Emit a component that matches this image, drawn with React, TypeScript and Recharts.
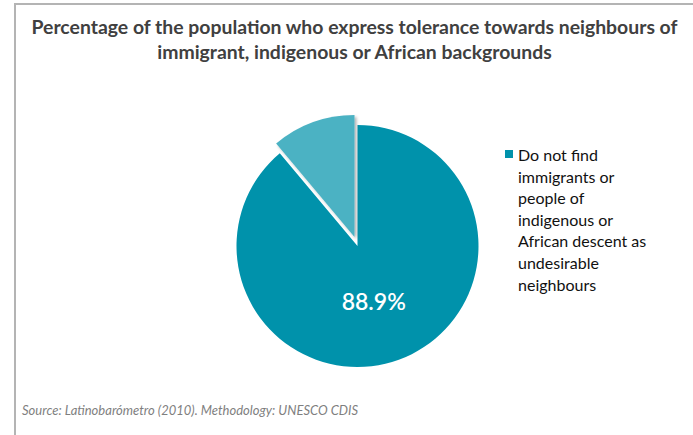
import { PieChart, Pie, Cell, Legend } from "recharts";

const categories = [
  "Do not find immigrants or people of indigenous or African descent as undesirable neighbours",
  "Others",
];
const shares = [88.9, 11.1];
const colors = ["#0092ab", "#4cb2c3"];

const data = categories.map((name, i) => ({ name, value: shares[i] }));

const RAD = Math.PI / 180;

const renderLabel = (props: any) => {
  if (props.index !== 0) return null;
  const { cx, cy, midAngle, outerRadius, percent } = props;
  const r = outerRadius * 0.49;
  const x = cx + r * Math.cos(-midAngle * RAD) - 4;
  const y = cy + r * Math.sin(-midAngle * RAD) - 1;
  return (
    <text
      x={x}
      y={y}
      fill="#ffffff"
      textAnchor="middle"
      dominantBaseline="central"
      fontSize={23}
      fontWeight={600}
      fontFamily="Lato, 'Open Sans', sans-serif"
    >
      {(percent * 100).toFixed(1)}%
    </text>
  );
};

const renderLegend = (props: any) => {
  const entry = (props.payload || [])[0];
  if (!entry) return null;
  return (
    <div style={{ display: "flex", alignItems: "flex-start", width: 160 }}>
      <span
        style={{
          display: "inline-block",
          width: 8,
          height: 8,
          background: colors[0],
          marginTop: 6,
          marginRight: 5,
          flexShrink: 0,
        }}
      />
      <span
        style={{
          fontSize: 16,
          lineHeight: "21.6px",
          color: "#111",
          fontFamily: "Lato, 'Open Sans', sans-serif",
          width: 138,
        }}
      >
        {entry.value}
      </span>
    </div>
  );
};

export default function App() {
  return (
    <div
      style={{
        position: "absolute",
        left: 0,
        top: 0,
        width: 693,
        height: 435,
        background: "#fff",
        overflow: "hidden",
        fontFamily: "Lato, 'Open Sans', sans-serif",
      }}
    >
      <div
        style={{
          position: "absolute",
          left: 14,
          top: 3,
          right: 0,
          bottom: 0,
          borderTop: "2px solid #b4b4b4",
          borderLeft: "2px solid #b4b4b4",
        }}
      />
      <div
        style={{
          position: "absolute",
          left: 16,
          width: 677,
          top: 14,
          textAlign: "center",
          fontSize: 19.4,
          fontWeight: 700,
          lineHeight: "25px",
          color: "#404040",
        }}
      >
        Percentage of the population who express tolerance towards neighbours of
        <br />
        immigrant, indigenous or African backgrounds
      </div>
      <PieChart width={693} height={435} style={{ position: "absolute", left: 0, top: 0 }}>
        <defs>
          <filter id="sliceShadow" x="-20%" y="-20%" width="140%" height="140%">
            <feDropShadow dx="2" dy="2" stdDeviation="1.5" floodColor="#000" floodOpacity="0.3" />
          </filter>
        </defs>
        <Pie
          data={data}
          dataKey="value"
          nameKey="name"
          cx={352.5}
          cy={241}
          outerRadius={121}
          startAngle={90}
          endAngle={-270}
          stroke="none"
          label={renderLabel}
          labelLine={false}
          isAnimationActive={false}
        >
          {data.map((d, i) => (
            <Cell key={d.name} fill={i === 0 ? colors[0] : "transparent"} />
          ))}
        </Pie>
        <Pie
          data={data}
          dataKey="value"
          nameKey="name"
          cx={349.5}
          cy={232}
          outerRadius={122}
          startAngle={90}
          endAngle={-270}
          stroke="none"
          legendType="none"
          isAnimationActive={false}
        >
          {data.map((d, i) => (
            <Cell
              key={d.name}
              fill={i === 1 ? colors[1] : "transparent"}
              filter={i === 1 ? "url(#sliceShadow)" : undefined}
            />
          ))}
        </Pie>
        <Legend
          layout="vertical"
          align="right"
          verticalAlign="top"
          wrapperStyle={{ left: 505, top: 144, width: 165 }}
          content={renderLegend}
        />
      </PieChart>
      <div
        style={{
          position: "absolute",
          left: 22,
          top: 402,
          fontSize: 13,
          fontStyle: "italic",
          color: "#7f7f7f",
        }}
      >
        Source: Latinobarómetro (2010). Methodology: UNESCO CDIS
      </div>
    </div>
  );
}
